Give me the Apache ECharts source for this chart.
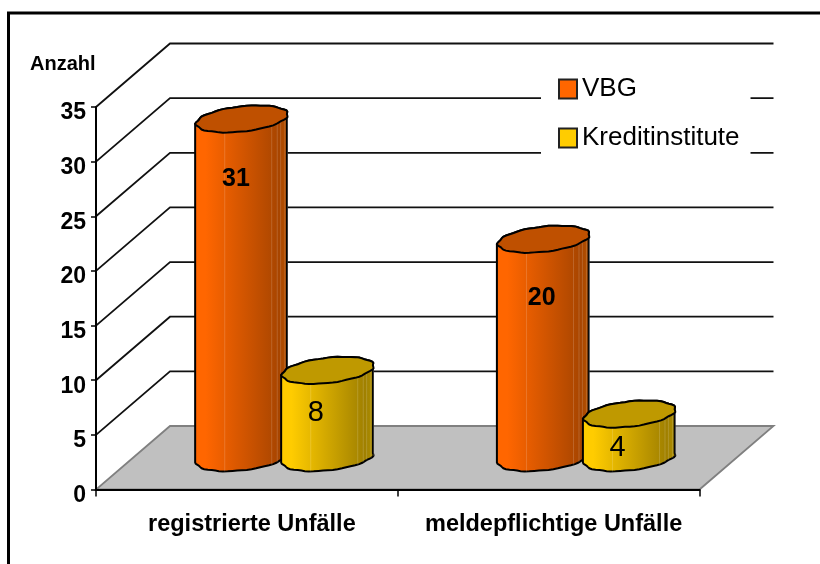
<!DOCTYPE html>
<html>
<head>
<meta charset="utf-8">
<style>html,body{margin:0;padding:0;background:#fff}#c{width:820px;height:564px}</style>
<script src="https://cdn.jsdelivr.net/npm/echarts@6/dist/echarts.min.js"></script>
</head>
<body>
<div id="c"></div>
<script>
const categories = ['registrierte Unfälle', 'meldepflichtige Unfälle'];
const vbg = [31, 20];
const kreditinstitute = [8, 4];
const yTicks = [0, 5, 10, 15, 20, 25, 30, 35];

const FONT = '"Liberation Sans", Arial, sans-serif';
const DEPTH_X = 74, DEPTH_Y = -63.5;
const A = 43, B = 16, D = 13.5;

function ringPoint(cx, cy, t) {
  const k = 1 + 0.02 * Math.sin(11 * t + 0.6);
  return [cx + k * (A * Math.cos(t) + B * Math.sin(t)), cy - k * D * Math.sin(t)];
}
function cylinderItem(colors, groupOffset, labelStyle, labelShift) {
  return function (params, api) {
    const cat = api.value(0), v = api.value(1);
    const band = api.size([1, 0])[0];
    const base = api.coord([cat, 0]);
    const top = api.coord([cat, v]);
    const cx = base[0] + groupOffset * band + DEPTH_X / 2;
    const by = base[1] + DEPTH_Y / 2;
    const ty = top[1] + DEPTH_Y / 2;
    const t0 = Math.atan2(B, A);
    const N = 30;
    const side = [];
    side.push(ringPoint(cx, ty, t0));
    for (let i = 0; i <= N; i++) {
      side.push(ringPoint(cx, by, t0 - Math.PI * i / N));
    }
    const ring = [];
    for (let i = 0; i < 2 * N; i++) ring.push(ringPoint(cx, ty, t0 + Math.PI * i / N));
    for (let i = N; i >= 0; i--) side.push(ringPoint(cx, ty, t0 + Math.PI * i / N));
    const children = [{
      type: 'polygon',
      shape: { points: side },
      style: {
        fill: new echarts.graphic.LinearGradient(0, 0, 1, 0, [
          { offset: 0, color: colors[0] },
          { offset: 0.12, color: colors[0] },
          { offset: 0.9, color: colors[1] },
          { offset: 1, color: colors[2] }
        ]),
        stroke: '#000', lineWidth: 2
      }
    }];
    [0.38, 0.72, 0.78, 0.83, 0.88, 0.93].forEach(function (u) {
      const t = t0 - Math.PI * (1 - u);
      const a = ringPoint(cx, ty, t), b = ringPoint(cx, by, t);
      children.push({
        type: 'line',
        shape: { x1: a[0], y1: a[1], x2: b[0], y2: b[1] },
        style: { stroke: 'rgba(255,255,255,0.16)', lineWidth: 1 }
      });
    });
    children.push({
      type: 'polygon',
      shape: { points: ring },
      style: { fill: colors[3], stroke: '#000', lineWidth: 2 }
    });
    const shift = labelShift[cat];
    children.push({
      type: 'text',
      style: {
        x: cx + shift[0], y: ty + shift[1],
        text: String(v), textAlign: 'center', textVerticalAlign: 'middle',
        font: labelStyle, fill: '#000'
      }
    });
    return { type: 'group', children: children };
  };
}
function wallItem(params, api) {
  const v = api.value(1);
  const band = api.size([1, 0])[0];
  const p = api.coord([0, v]);
  const x0 = p[0] - band / 2;
  const x1 = p[0] + band * 1.5;
  const y = p[1];
  const children = [];
  if (v === 0) {
    children.push({
      type: 'polygon',
      shape: { points: [[x0, y], [x1, y], [x1 + DEPTH_X, y + DEPTH_Y], [x0 + DEPTH_X, y + DEPTH_Y]] },
      style: { fill: '#c0c0c0', stroke: '#808080', lineWidth: 1.8 }
    });
  } else {
    children.push({
      type: 'polyline',
      shape: { points: [[x0, y], [x0 + DEPTH_X, y + DEPTH_Y], [x1 + DEPTH_X, y + DEPTH_Y]] },
      style: { fill: 'none', stroke: '#111', lineWidth: 1.8 }
    });
  }
  return { type: 'group', children: children };
}

const chart = echarts.init(document.getElementById('c'), null, { renderer: 'canvas' });
chart.setOption({
  animation: false,
  backgroundColor: '#fff',
  textStyle: { fontFamily: FONT },
  title: {
    text: 'Anzahl', left: 30, top: 54, padding: 0,
    textStyle: { fontFamily: FONT, fontSize: 20, fontWeight: 'bold', color: '#000' }
  },
  legend: {
    orient: 'vertical', left: 541, top: 60, z: 10,
    padding: [16, 11, 30, 17], itemGap: 23,
    backgroundColor: '#fff',
    itemWidth: 18, itemHeight: 19,
    icon: 'rect',
    textStyle: { fontFamily: FONT, fontSize: 26, color: '#000' },
    data: ['VBG', 'Kreditinstitute'],
    selectedMode: false
  },
  grid: { left: 96, right: 120.5, top: 107, bottom: 74.5, containLabel: false },
  xAxis: {
    type: 'category', data: categories, z: 5,
    axisLine: { lineStyle: { color: '#000', width: 2 } },
    axisTick: { show: true, length: 7, lineStyle: { color: '#000', width: 1.5 } },
    axisLabel: { interval: 0, margin: 23, padding: [0, 0, 0, 10], color: '#000', fontFamily: FONT, fontSize: 23.5, fontWeight: 'bold' }
  },
  yAxis: {
    type: 'value', min: 0, max: 35, interval: 5, z: 5,
    splitLine: { show: false },
    axisLine: { show: true, lineStyle: { color: '#000', width: 2 } },
    axisTick: { show: true, length: 5, lineStyle: { color: '#000', width: 1.5 } },
    axisLabel: { margin: 10, verticalAlign: 'top', lineHeight: 12, color: '#000', fontFamily: FONT, fontSize: 23, fontWeight: 'bold' }
  },
  graphic: [
    { type: 'polyline', silent: true, shape: { points: [[8.5, 564], [8.5, 13], [820, 13]] },
      style: { fill: 'none', stroke: '#000', lineWidth: 3 } }
  ],
  series: [
    { name: 'Wand', type: 'custom', z: 1, coordinateSystem: 'cartesian2d', silent: true,
      renderItem: wallItem, data: yTicks.map(function (v) { return [0, v]; }) },
    { name: 'VBG', type: 'custom', z: 3, coordinateSystem: 'cartesian2d',
      itemStyle: { color: '#ff6600', borderColor: '#222', borderWidth: 1.5 },
      renderItem: cylinderItem(['#ff6600', '#a84500', '#b85400', '#bf5000'], -0.139,
        'bold 25px "Liberation Sans", Arial, sans-serif', [[-6, 60], [-2, 59]]),
      data: vbg.map(function (v, i) { return [i, v]; }) },
    { name: 'Kreditinstitute', type: 'custom', z: 4, coordinateSystem: 'cartesian2d',
      itemStyle: { color: '#ffcc00', borderColor: '#222', borderWidth: 1.5 },
      renderItem: cylinderItem(['#ffcc00', '#a08000', '#b09000', '#bf9900'], 0.146,
        '29px "Liberation Sans", Arial, sans-serif', [[-12, 43], [-12, 34]]),
      data: kreditinstitute.map(function (v, i) { return [i, v]; }) }
  ]
});
</script>
</body>
</html>
